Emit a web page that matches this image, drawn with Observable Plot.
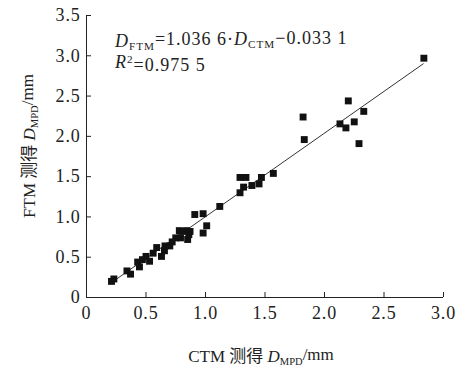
<!DOCTYPE html>
<html><head><meta charset="utf-8">
<script src="https://cdn.jsdelivr.net/npm/d3@7"></script>
<script src="https://cdn.jsdelivr.net/npm/@observablehq/plot@0.6"></script>
<style>
body{margin:0;background:#fff} svg{display:block}
</style>
</head><body><div id="chart"></div>
<script>
const ctm = [0.21,0.23,0.34,0.37,0.43,0.445,0.47,0.50,0.53,0.56,0.59,0.63,0.655,0.66,0.70,0.72,0.75,0.78,0.79,0.81,0.84,0.85,0.86,0.87,0.91,0.98,0.98,1.01,1.12,1.29,1.34,1.32,1.29,1.39,1.45,1.47,1.57,1.82,1.83,2.13,2.18,2.20,2.25,2.29,2.33,2.835];
const ftm = [0.20,0.23,0.33,0.29,0.44,0.38,0.47,0.51,0.45,0.55,0.62,0.51,0.58,0.64,0.64,0.69,0.74,0.83,0.74,0.82,0.83,0.72,0.78,0.82,1.03,1.04,0.80,0.89,1.13,1.49,1.49,1.37,1.30,1.39,1.41,1.49,1.54,2.24,1.96,2.155,2.105,2.44,2.18,1.91,2.31,2.97];
const xTicks = [0,0.5,1,1.5,2,2.5,3];
const yTicks = [0,0.5,1,1.5,2,2.5,3,3.5];
const slope = 1.0366, intercept = -0.0331;
const fitRange = [0.2, 2.83];

const points = ctm.map((x,i)=>({x, y: ftm[i]}));
const fit = fitRange.map(x=>({x, y: slope*x+intercept}));
const fmt = d => d===0 ? "0" : d.toFixed(1);
const ff = "Liberation Serif, Noto Sans CJK SC, serif";

const W = 460, H = 369;
const plot = Plot.plot({
  width: W, height: H,
  marginLeft: 86, marginRight: 17, marginTop: 15, marginBottom: 72,
  style: {fontSize: "18px", color: "#222", background: "#fff", fontFamily: ff},
  x: {domain: [0,3]},
  y: {domain: [0,3.5]},
  marks: [
    Plot.axisX({ticks: xTicks, tickSize: -5, tickFormat: () => "", label: null}),
    Plot.axisX({ticks: xTicks, tickSize: 0, tickPadding: 9, tickFormat: fmt, label: null}),
    Plot.axisY({ticks: yTicks, tickSize: -5, tickFormat: () => "", label: null}),
    Plot.axisY({ticks: yTicks, tickSize: 0, tickPadding: 6, tickFormat: fmt, label: null}),
    Plot.ruleX([0], {stroke: "#222"}),
    Plot.ruleY([0], {stroke: "#222"}),
    Plot.line(fit, {x: "x", y: "y", stroke: "#333", strokeWidth: 1}),
    Plot.dot(points, {x: "x", y: "y", symbol: "square", r: 3.9, fill: "#111", stroke: "none"})
  ]
});
document.getElementById("chart").appendChild(plot);

const svg = d3.select(plot);
svg.attr("font-family", ff);
svg.selectAll("g[aria-label='x-axis tick label'], g[aria-label='y-axis tick label']")
  .attr("font-family", ff).attr("font-variant", "normal").attr("letter-spacing", "0.8px");
svg.selectAll("text").attr("font-family", ff).style("font-variant", "normal");

function addLabel(g, parts) {
  parts.forEach(p => {
    const t = g.append("tspan").text(p.t);
    if (p.i) t.attr("font-style", "italic");
    if (p.sub) t.attr("font-size", "0.62em").attr("dy", "0.25em");
    if (p.up) t.attr("dy", "-0.25em");
    if (p.sup) t.attr("font-size", "0.62em").attr("dy", "-0.45em");
    if (p.down) t.attr("dy", "0.45em");
  });
}
// x label
const xl = svg.append("text").attr("x", 261).attr("y", 362).attr("text-anchor", "middle")
  .attr("font-family", ff).attr("font-size", 17).attr("fill", "#222");
addLabel(xl, [{t:"CTM 测得 "},{t:"D", i:true},{t:"MPD", sub:true},{t:"/mm", up:true}]);
// y label
const yl = svg.append("text").attr("transform", "translate(35,146) rotate(-90)").attr("text-anchor", "middle")
  .attr("font-family", ff).attr("font-size", 17).attr("fill", "#222");
addLabel(yl, [{t:"FTM 测得 "},{t:"D", i:true},{t:"MPD", sub:true},{t:"/mm", up:true}]);
// equation
const eq = svg.append("text").attr("x", 115).attr("y", 47).attr("text-anchor", "start").attr("font-family", ff)
  .attr("font-size", 18).attr("fill", "#222").attr("letter-spacing", "1px");
addLabel(eq, [{t:"D", i:true},{t:"FTM", sub:true},{t:"=1.036 6·", up:true},{t:"D", i:true},{t:"CTM", sub:true},{t:"−0.033 1", up:true}]);
const r2 = svg.append("text").attr("x", 115).attr("y", 68).attr("text-anchor", "start").attr("font-family", ff)
  .attr("font-size", 18).attr("fill", "#222").attr("letter-spacing", "1px");
addLabel(r2, [{t:"R", i:true},{t:"2", sup:true},{t:"=0.975 5", down:true}]);
</script>
</body></html>
